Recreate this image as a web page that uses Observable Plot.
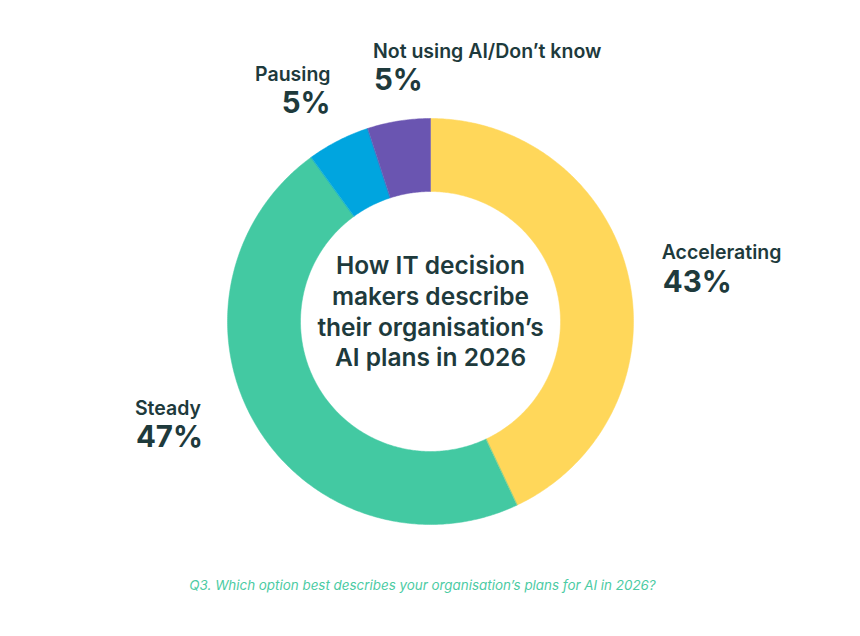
<!DOCTYPE html>
<html>
<head>
<meta charset="utf-8">
<script src="https://cdn.jsdelivr.net/npm/d3@7"></script>
<script src="https://cdn.jsdelivr.net/npm/@observablehq/plot@0.6"></script>
<style>
  html, body { margin: 0; padding: 0; background: #fff; }
  #chart { width: 860px; height: 636px; }
</style>
</head>
<body>
<div id="chart"></div>
<script>
// ---- data ----
const categories = ["Accelerating", "Steady", "Pausing", "Not using AI/Don’t know"];
const values = [43, 47, 5, 5];
const valueLabels = ["43%", "47%", "5%", "5%"];
const colors = ["#FFD75A", "#43C9A2", "#00A5DF", "#6A55B1"];
const titleLines = ["How IT decision", "makers describe", "their organisation’s", "AI plans in 2026"];
const caption = "Q3. Which option best describes your organisation’s plans for AI in 2026?";

// ---- styles / geometry ----
const W = 860, H = 636;
const CX = 430, CY = 321;          // centre of the donut in pixels
const R_OUT = 203, R_IN = 130;
const ink = "#1E3A3C";
const font = "Inter, 'Noto Sans', sans-serif";
// label placement relative to slice mid-angle point (radius, dx, dy, anchor)
const labelStyle = [
  {r: 240, dx: -3,  dy: -2,  anchor: "start"},
  {r: 240, dx: -89, dy: -21, anchor: "start"},
  {r: 240, dx: 9,   dy: -19, anchor: "end"},
  {r: 240, dx: -20, dy: -19, anchor: "start"}
];

// ---- build slices from data ----
const pie = d3.pie().sort(null).value(d => d.value).startAngle(0).endAngle(2 * Math.PI);
const rows = categories.map((c, i) => ({name: c, value: values[i], label: valueLabels[i], color: colors[i], idx: i}));
const arcs = pie(rows);

const pts = [];
arcs.forEach(a => {
  const n = Math.max(4, Math.ceil((a.endAngle - a.startAngle) / 0.01));
  for (let k = 0; k <= n; k++) {
    const t = a.startAngle + (a.endAngle - a.startAngle) * k / n;
    pts.push({name: a.data.name, x: R_OUT * Math.sin(t), y: R_OUT * Math.cos(t)});
  }
  for (let k = n; k >= 0; k--) {
    const t = a.startAngle + (a.endAngle - a.startAngle) * k / n;
    pts.push({name: a.data.name, x: R_IN * Math.sin(t), y: R_IN * Math.cos(t)});
  }
});

const labels = arcs.map(a => {
  const m = (a.startAngle + a.endAngle) / 2;
  const s = labelStyle[a.data.idx];
  return {
    name: a.data.name, label: a.data.label, anchor: s.anchor,
    x: s.r * Math.sin(m) + s.dx,
    y: s.r * Math.cos(m) - s.dy
  };
});

const nameStyle = {fontSize: 19.5, fontWeight: 600, fill: ink, dy: -14, letterSpacing: 0.2};
const pctStyle = {fontSize: 29.5, fontWeight: 700, fill: ink, dy: 15};

const chart = Plot.plot({
  width: W, height: H,
  margin: 0,
  x: {domain: [-CX, W - CX], axis: null},
  y: {domain: [-(H - CY), CY], axis: null},
  color: {domain: categories, range: colors},
  style: {fontFamily: font, background: "#fff"},
  marks: [
    Plot.line(pts, {x: "x", y: "y", z: "name", fill: "name", stroke: "name", strokeWidth: 0.5, curve: "linear-closed"}),
    // slice labels
    Plot.text(labels.filter(d => d.anchor === "start"), {x: "x", y: "y", text: "name", textAnchor: "start", ...nameStyle}),
    Plot.text(labels.filter(d => d.anchor === "start"), {x: "x", y: "y", text: "label", textAnchor: "start", dx: 1, ...pctStyle}),
    Plot.text(labels.filter(d => d.anchor === "end"), {x: "x", y: "y", text: "name", textAnchor: "end", ...nameStyle}),
    Plot.text(labels.filter(d => d.anchor === "end"), {x: "x", y: "y", text: "label", textAnchor: "end", ...pctStyle}),
    // centre title
    Plot.text([titleLines.join("\n")], {x: [0], y: [0], text: d => d, lineHeight: 1.25, fontSize: 24.5, fontWeight: 600, fill: ink, dy: -11, letterSpacing: 0.2}),
    // caption
    Plot.text([caption], {x: [-8], y: [-(585 - CY)], text: d => d, fontSize: 13.4, fontStyle: "italic", fill: "#4CCBA3"})
  ]
});
document.getElementById("chart").appendChild(chart);
</script>
</body>
</html>
